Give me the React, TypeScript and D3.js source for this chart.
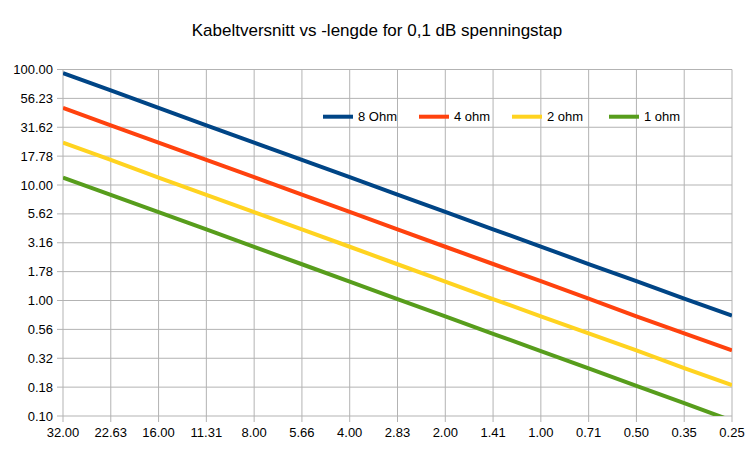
import React from "react";
import * as d3 from "d3";

const categories = ["32.00","22.63","16.00","11.31","8.00","5.66","4.00","2.83","2.00","1.41","1.00","0.71","0.50","0.35","0.25"];

const ohm8 = [93.0, 65.8, 46.6, 32.9, 23.3, 16.5, 11.7, 8.25, 5.84, 4.13, 2.93, 2.07, 1.47, 1.04, 0.74];
const ohm4 = [46.5, 32.9, 23.3, 16.5, 11.7, 8.25, 5.84, 4.13, 2.92, 2.07, 1.47, 1.04, 0.73, 0.52, 0.37];
const ohm2 = [23.3, 16.5, 11.6, 8.23, 5.83, 4.12, 2.92, 2.06, 1.46, 1.03, 0.73, 0.52, 0.37, 0.26, 0.185];
const ohm1 = [11.6, 8.23, 5.82, 4.12, 2.91, 2.06, 1.46, 1.03, 0.73, 0.515, 0.364, 0.258, 0.182, 0.129, 0.091];

const seriesNames = ["8 Ohm", "4 ohm", "2 ohm", "1 ohm"];
const seriesColors = ["#004586", "#ff420e", "#ffd320", "#579d1c"];
const seriesData = [ohm8, ohm4, ohm2, ohm1];

const yTickValues = [0.1, 0.1778, 0.3162, 0.5623, 1, 1.778, 3.162, 5.623, 10, 17.78, 31.62, 56.23, 100];

const title = "Kabeltversnitt vs -lengde for 0,1 dB spenningstap";

const W = 754, H = 459;
const left = 63, right = 732, top = 69.5, bottom = 416;
const font = "'Liberation Sans', Arial, sans-serif";

export default function App() {
  const x = d3.scalePoint<string>().domain(categories).range([left, right]);
  const y = d3.scaleLog().domain([0.1, 100]).range([bottom, top]);
  const fmt = d3.format(".2f");
  const line = d3.line<number>().x((_, i) => x(categories[i]) as number).y(d => y(d));
  const legendX = [323, 419, 512, 609];
  const legendY = 116.7;
  return (
    <svg width={W} height={H} style={{ position: "absolute", left: 0, top: 0, background: "#fff" }} fontFamily={font}>
      <defs>
        <clipPath id="plot">
          <rect x={left} y={top} width={right - left} height={bottom - top} />
        </clipPath>
      </defs>
      <rect x={0} y={0} width={W} height={H} fill="#fff" />
      <text x={377} y={36} textAnchor="middle" fontSize={17} fill="#000">{title}</text>
      {yTickValues.map((v, i) => (
        <g key={"y" + i}>
          <line x1={left - 6} x2={right} y1={y(v)} y2={y(v)} stroke="#b3b3b3" strokeWidth={1} />
          <text x={53} y={y(v)} dy="0.35em" textAnchor="end" fontSize={13} fill="#000">{fmt(v)}</text>
        </g>
      ))}
      {categories.map((c, i) => (
        <g key={"x" + i}>
          <line x1={x(c)} x2={x(c)} y1={top} y2={bottom + 6} stroke="#b3b3b3" strokeWidth={1} />
          <text x={x(c)} y={437} textAnchor="middle" fontSize={13} fill="#000">{c}</text>
        </g>
      ))}
      <g clipPath="url(#plot)">
        {seriesData.map((d, i) => (
          <path key={"s" + i} d={line(d) as string} fill="none" stroke={seriesColors[i]} strokeWidth={4} strokeLinejoin="round" />
        ))}
      </g>
      {seriesNames.map((n, i) => (
        <g key={"l" + i}>
          <line x1={legendX[i]} x2={legendX[i] + 30} y1={legendY} y2={legendY} stroke={seriesColors[i]} strokeWidth={4} />
          <text x={legendX[i] + 35} y={legendY} dy="0.35em" fontSize={13} fill="#000">{n}</text>
        </g>
      ))}
    </svg>
  );
}
